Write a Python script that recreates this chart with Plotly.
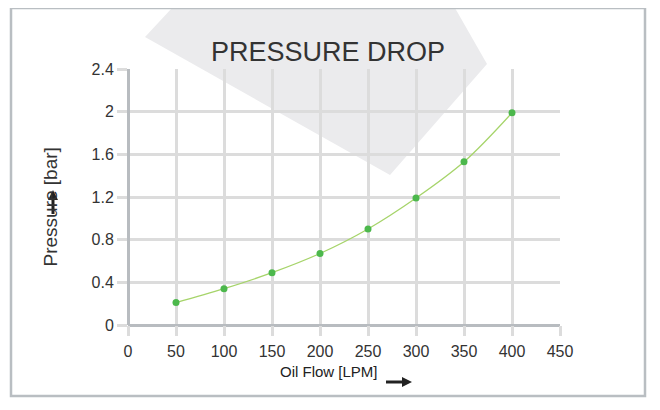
import plotly.graph_objects as go

flow = [50, 100, 150, 200, 250, 300, 350, 400]
pressure = [0.21, 0.34, 0.49, 0.67, 0.90, 1.19, 1.53, 1.99]
x_ticks = [0, 50, 100, 150, 200, 250, 300, 350, 400, 450]
y_ticks = [0, 0.4, 0.8, 1.2, 1.6, 2, 2.4]
y_labels = ["0", "0.4", "0.8", "1.2", "1.6", "2", "2.4"]

OFF = 8
L, T = 128 - OFF, 69 - OFF
PW, PH = 432, 256
R, B = 660 - L - PW, 410 - T - PH
def px(x, y):
    return (x - 128) / PW, (325 - y) / PH

fig = go.Figure()
fig.add_trace(go.Scatter(x=flow, y=pressure, mode="lines+markers",
                         line=dict(color="#a6d46a", width=1.3, shape="spline"),
                         marker=dict(color="#4cb84c", size=7)))

def poly_path(poly):
    pts = [px(*p) for p in poly]
    return "M " + " L ".join(f"{a},{b}" for a, b in pts) + " Z"

shapes = [
    dict(type="path", xref="paper", yref="paper",
         path=poly_path([(145, 37), (172, 8), (455, 8), (487, 64), (390, 175)]),
         fillcolor="#ebebed", line=dict(width=0), layer="below"),
    dict(type="rect", xref="paper", yref="paper",
         x0=px(11, 0)[0], x1=px(645, 0)[0], y0=px(0, 396)[1], y1=px(0, 8)[1],
         line=dict(color="#b9bec2", width=2.5), layer="below"),
    # x-title arrow
    dict(type="line", xref="paper", yref="paper", x0=px(386, 0)[0], x1=px(404, 0)[0],
         y0=px(0, 382)[1], y1=px(0, 382)[1], line=dict(color="#222", width=3)),
    dict(type="path", xref="paper", yref="paper", fillcolor="#222", line=dict(width=0),
         path=poly_path([(402, 377), (412, 382), (402, 387)])),
    # y-title arrow
    dict(type="line", xref="paper", yref="paper", x0=px(53, 0)[0], x1=px(53, 0)[0],
         y0=px(0, 214)[1], y1=px(0, 198)[1], line=dict(color="#222", width=3)),
    dict(type="path", xref="paper", yref="paper", fillcolor="#222", line=dict(width=0),
         path=poly_path([(48, 200), (53, 190), (58, 200)])),
]
ax = dict(showline=False, zeroline=True, zerolinecolor="#b8bcc0", zerolinewidth=3,
          gridcolor="#dcdcdc", gridwidth=3, ticks="outside", ticklen=10,
          tickcolor="#dcdcdc", tickwidth=3,
          tickfont=dict(family="Liberation Sans, Arial", size=16, color="#333"))
fig.update_layout(
    width=660, height=410, margin=dict(l=L, r=R, t=T, b=B),
    paper_bgcolor="white", plot_bgcolor="white", showlegend=False,
    shapes=shapes,
    xaxis=dict(ax, range=[0, 450], tickvals=x_ticks, ticklabelstandoff=2),
    yaxis=dict(ax, range=[0, 2.4], tickvals=y_ticks, ticktext=y_labels),
    annotations=[
        dict(text="PRESSURE DROP", xref="paper", yref="paper", x=px(328, 0)[0], y=px(0, 35)[1],
             showarrow=False, font=dict(family="Liberation Sans, Arial", size=27, color="#333")),
        dict(text="Oil Flow [LPM]", xref="paper", yref="paper", x=px(329, 0)[0], y=px(0, 382)[1],
             showarrow=False, font=dict(family="Liberation Sans, Arial", size=15, color="#222")),
        dict(text="Pressure [bar]", xref="paper", yref="paper", x=px(37, 0)[0], y=px(0, 207)[1],
             textangle=-90, showarrow=False,
             font=dict(family="Liberation Sans, Arial", size=19, color="#333")),
    ],
)
fig.write_html("out.html")
